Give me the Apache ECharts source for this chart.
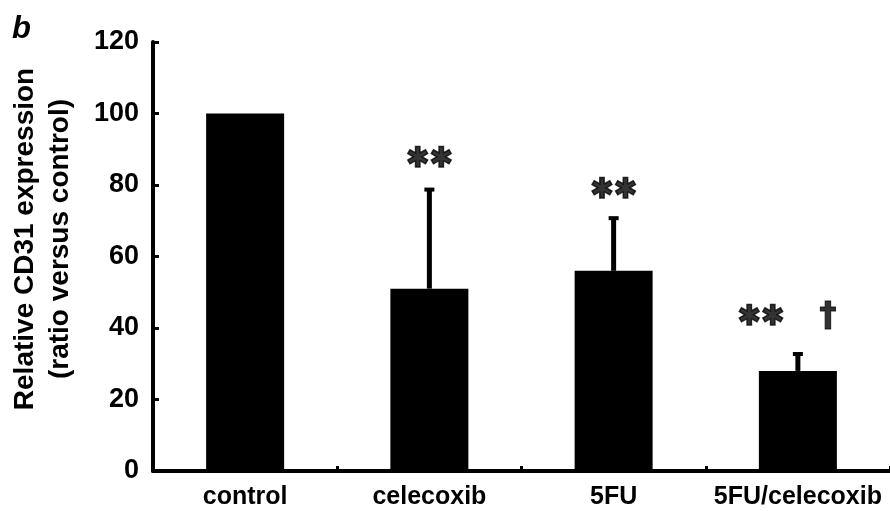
<!DOCTYPE html>
<html>
<head>
<meta charset="utf-8">
<script src="https://cdn.jsdelivr.net/npm/echarts@6/dist/echarts.min.js"></script>
<style>
  html, body { margin: 0; padding: 0; background: #fff; }
  #main { width: 890px; height: 511px; }
</style>
</head>
<body>
<div id="main"></div>
<script>
// data
const groups = ['control', 'celecoxib', '5FU', '5FU/celecoxib'];
const meanValues = [100, 51, 56, 28];
const errorTop = [100, 79, 71, 33];
const yTicks = [0, 20, 40, 60, 80, 100, 120];
// significance marks
const starText = ['', '✱✱', '✱✱', '✱✱'];
const starY = [null, 87, 78.5, 43];
const daggerText = ['', '', '', '†'];
const daggerY = [null, null, null, 43];

const chart = echarts.init(document.getElementById('main'));
const FONT = '"Liberation Sans", Arial, sans-serif';

// error bar drawn with a custom series
function renderError(params, api) {
  const i = api.value(0);
  const lo = api.coord([i, api.value(1)]);
  const hi = api.coord([i, api.value(2)]);
  if (api.value(2) <= api.value(1)) return null;
  return {
    type: 'group',
    children: [
      { type: 'line', shape: { x1: lo[0], y1: lo[1], x2: hi[0], y2: hi[1] },
        style: { stroke: '#000', lineWidth: 5 } },
      { type: 'line', shape: { x1: hi[0] - 5, y1: hi[1] + 1, x2: hi[0] + 5, y2: hi[1] + 1 },
        style: { stroke: '#000', lineWidth: 4 } }
    ]
  };
}

let option = {
  animation: false,
  backgroundColor: '#fff',
  grid: { left: 153, top: 42, bottom: 40, width: 740 },
  xAxis: {
    type: 'category',
    data: groups,
    axisLine: { lineStyle: { color: '#000', width: 4 } },
    axisTick: { show: true, inside: true, interval: 0, length: 5, lineStyle: { color: '#000', width: 3 } },
    axisLabel: {
      interval: 0, hideOverlap: false,
      color: '#000', fontFamily: FONT, fontWeight: 'bold', fontSize: 25, margin: 14
    }
  },
  yAxis: {
    type: 'value',
    min: 0,
    max: 120,
    interval: 20,
    axisLine: { show: true, lineStyle: { color: '#000', width: 4 } },
    axisTick: { show: true, inside: true, length: 6, lineStyle: { color: '#000', width: 3 } },
    splitLine: { show: false },
    axisLabel: {
      color: '#000', fontFamily: FONT, fontWeight: 'bold', fontSize: 27, margin: 14,
      formatter: v => yTicks.includes(v) ? String(v) : ''
    }
  },
  graphic: [
    {
      type: 'text', left: 12, top: 14,
      style: { text: 'b', fontFamily: FONT, fontWeight: 'bold', fontStyle: 'italic', fontSize: 31, fill: '#000' }
    },
    {
      type: 'text', x: 43, y: 239, rotation: Math.PI / 2,
      style: {
        text: 'Relative CD31 expression\n(ratio versus control)',
        fontFamily: FONT, fontWeight: 'bold', fontSize: 28, lineHeight: 35,
        fill: '#000', align: 'center', verticalAlign: 'middle'
      }
    }
  ],
  series: [
    {
      type: 'bar',
      data: meanValues,
      barWidth: 78,
      itemStyle: { color: '#000' },
      z: 2
    },
    {
      type: 'custom',
      renderItem: renderError,
      data: groups.map((g, i) => [i, meanValues[i], errorTop[i]]),
      encode: { x: 0, y: [1, 2] },
      z: 3
    },
    {
      type: 'scatter',
      symbolSize: 0,
      data: starY.map((y, i) => [i, y]),
      label: {
        show: true, position: 'inside',
        formatter: p => starText[p.dataIndex],
        color: '#000', fontFamily: '"DejaVu Sans", sans-serif', fontSize: 28, fontWeight: 'bold',
        textBorderColor: '#000', textBorderWidth: 1.5,
        offset: [0, 0]
      },
      z: 4
    },
    {
      type: 'scatter',
      symbolSize: 0,
      data: daggerY.map((y, i) => [i, y]),
      label: {
        show: true, position: 'inside',
        formatter: p => daggerText[p.dataIndex],
        color: '#000', fontFamily: '"DejaVu Sans", sans-serif', fontSize: 34, fontWeight: 'bold',
        textBorderColor: '#000', textBorderWidth: 1,
        offset: [30, 0]
      },
      z: 4
    }
  ]
};
// the double star above the combined group sits left of the bar centre
option.series[2].data[3] = { value: [3, starY[3]], label: { offset: [-37, 0] } };

chart.setOption(option);
</script>
</body>
</html>
